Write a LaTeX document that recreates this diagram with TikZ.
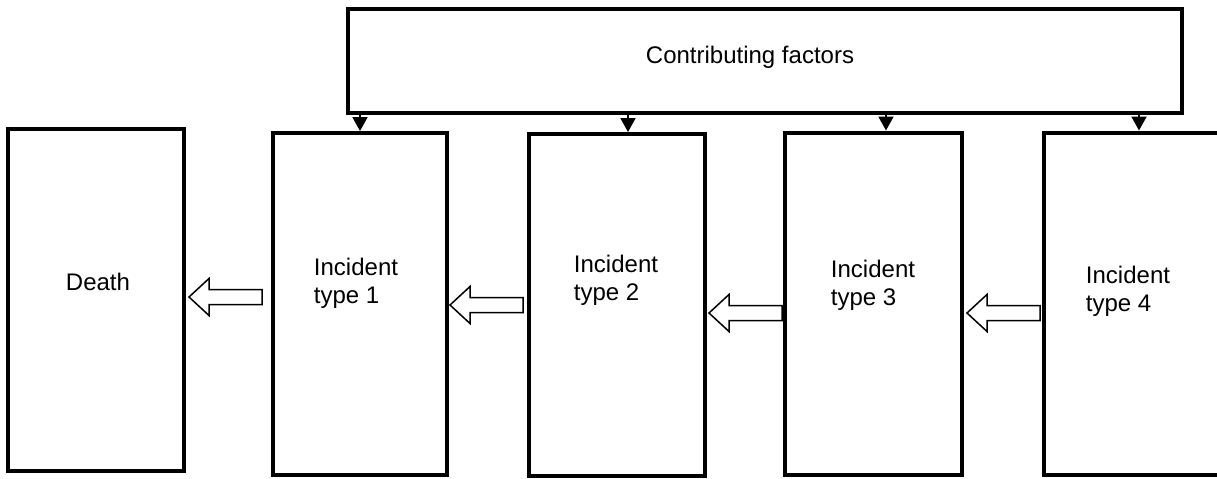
\documentclass[tikz,border=0pt]{standalone}
\usepackage{fontspec}
\setmainfont{Liberation Sans}
\usetikzlibrary{arrows.meta}
\begin{document}
\begin{tikzpicture}[x=0.5pt,y=-0.5pt,
  frame/.style={draw=black, line width=2pt, inner sep=0pt,
                minimum width=88pt, minimum height=171pt},
  banner/.style={draw=black, line width=2pt, inner sep=0pt,
                 minimum width=417pt, minimum height=52pt},
  caption/.style={align=left, font=\fontsize{12}{14}\selectfont, inner sep=0pt},
  feed/.style={-{Triangle[length=7pt,width=7.5pt]}, line width=1pt},
  hollow/.style={draw=black, line width=0.75pt, fill=white, line join=miter}]
\useasboundingbox (0,0) rectangle (1217,478);
\clip (0,0) rectangle (1217,478);

% contributing factors banner
\node[banner] (top) at (765,61) {};
\node[caption] (toplbl) at (750,57) {Contributing factors};

% outcome and incident boxes
\node[frame] (death) at (96,300) {};
\node[frame, minimum width=87pt] (b1) at (360,304) {};
\node[frame] (b2) at (617,305) {};
\node[frame, minimum width=88.5pt] (b3) at (873.5,303.5) {};
\node[frame, minimum width=88.5pt] (b4) at (1132.5,303.5) {};

\node[caption] (deathlbl) at (98,282) {Death};
\node[caption] (l1) at (356,283) {Incident\\type 1};
\node[caption] (l2) at (616,280) {Incident\\type 2};
\node[caption] (l3) at (873,285) {Incident\\type 3};
\node[caption] (l4) at (1128,291) {Incident\\type 4};

% factors feeding each incident type
\draw[feed] (b1.north |- top.south) -- (b1.north);
\draw[feed] ([xshift=5.5pt]b2.north |- top.south) -- ([xshift=5.5pt]b2.north);
\draw[feed] ([xshift=6.25pt]b3.north |- top.south) -- ([xshift=6.25pt]b3.north);
\draw[feed] ([xshift=3.25pt]b4.north |- top.south) -- ([xshift=3.25pt]b4.north);

% hollow progression arrows (tip, head, shaft)
\coordinate (h1) at (189,297);
\coordinate (h2) at (450,305);
\coordinate (h3) at (709,313);
\coordinate (h4) at (967,313);
\foreach \h in {h1,h2,h3,h4}
  \draw[hollow] (\h) -- ++(20,-18.5) -- ++(0,11) -- ++(53,0) -- ++(0,15)
                -- ++(-53,0) -- ++(0,11) -- cycle;
\end{tikzpicture}
\end{document}
